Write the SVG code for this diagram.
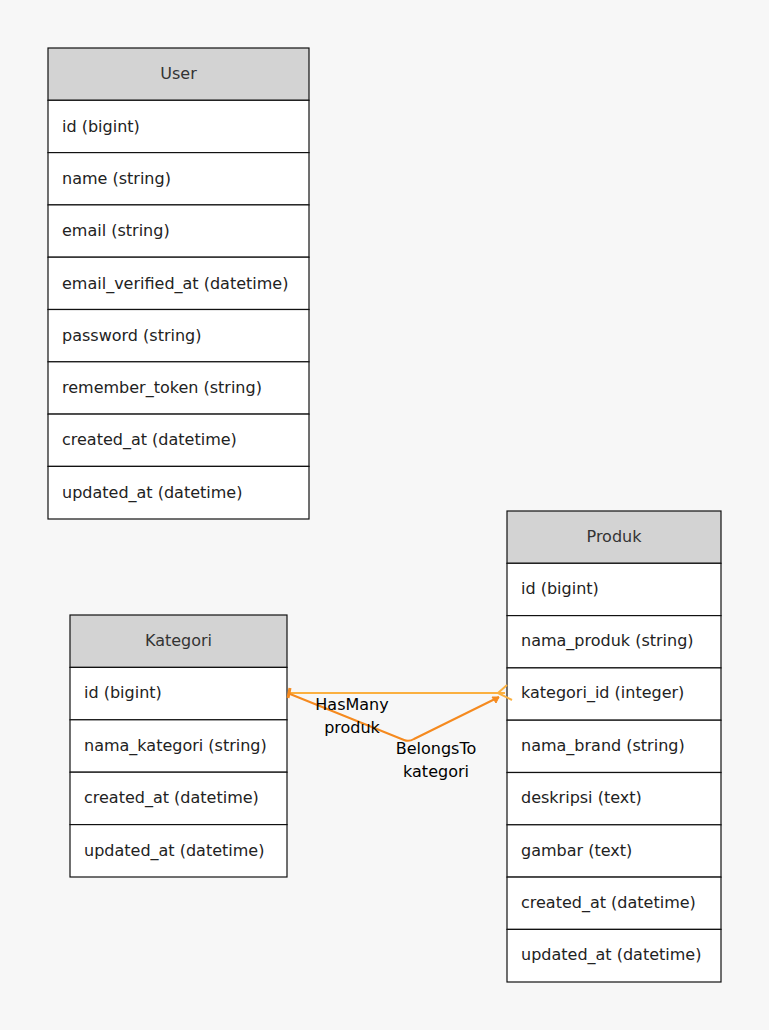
<svg xmlns="http://www.w3.org/2000/svg" width="769" height="1030" viewBox="0 0 769 1030">
<defs>
<style>
.hdr{fill:#d3d3d3;stroke:#111;stroke-width:1.2}
.row{fill:#fff;stroke:#111;stroke-width:1.2}
.t{font-family:"DejaVu Sans",sans-serif;font-size:16px;fill:#222}
.h{font-family:"DejaVu Sans",sans-serif;font-size:16px;fill:#333;text-anchor:middle}
.lbl{font-family:"DejaVu Sans",sans-serif;font-size:16px;fill:#000;text-anchor:middle}
</style>
</defs>
<rect width="769" height="1030" fill="#f7f7f7"/>
<g id="user">
<rect class="hdr" x="48" y="48" width="261" height="52.3"/>
<rect class="row" x="48" y="100.3" width="261" height="52.3"/>
<rect class="row" x="48" y="152.6" width="261" height="52.3"/>
<rect class="row" x="48" y="204.9" width="261" height="52.3"/>
<rect class="row" x="48" y="257.2" width="261" height="52.3"/>
<rect class="row" x="48" y="309.5" width="261" height="52.3"/>
<rect class="row" x="48" y="361.8" width="261" height="52.3"/>
<rect class="row" x="48" y="414.1" width="261" height="52.3"/>
<rect class="row" x="48" y="466.4" width="261" height="52.6"/>
<text class="h" x="178.5" y="79">User</text>
<text class="t" x="62" y="132">id (bigint)</text>
<text class="t" x="62" y="184">name (string)</text>
<text class="t" x="62" y="236">email (string)</text>
<text class="t" x="62" y="289">email_verified_at (datetime)</text>
<text class="t" x="62" y="341">password (string)</text>
<text class="t" x="62" y="393">remember_token (string)</text>
<text class="t" x="62" y="445">created_at (datetime)</text>
<text class="t" x="62" y="498">updated_at (datetime)</text>
</g>
<g id="kategori">
<rect class="hdr" x="70" y="615" width="217" height="52.4"/>
<rect class="row" x="70" y="667.4" width="217" height="52.4"/>
<rect class="row" x="70" y="719.8" width="217" height="52.4"/>
<rect class="row" x="70" y="772.2" width="217" height="52.4"/>
<rect class="row" x="70" y="824.6" width="217" height="52.4"/>
<text class="h" x="178.5" y="646">Kategori</text>
<text class="t" x="84" y="698">id (bigint)</text>
<text class="t" x="84" y="751">nama_kategori (string)</text>
<text class="t" x="84" y="803">created_at (datetime)</text>
<text class="t" x="84" y="856">updated_at (datetime)</text>
</g>
<g id="produk">
<rect class="hdr" x="507" y="511" width="214" height="52.3"/>
<rect class="row" x="507" y="563.3" width="214" height="52.3"/>
<rect class="row" x="507" y="615.6" width="214" height="52.3"/>
<rect class="row" x="507" y="667.9" width="214" height="52.3"/>
<rect class="row" x="507" y="720.2" width="214" height="52.3"/>
<rect class="row" x="507" y="772.5" width="214" height="52.3"/>
<rect class="row" x="507" y="824.8" width="214" height="52.3"/>
<rect class="row" x="507" y="877.1" width="214" height="52.3"/>
<rect class="row" x="507" y="929.4" width="214" height="52.6"/>
<text class="h" x="614" y="542">Produk</text>
<text class="t" x="521" y="594">id (bigint)</text>
<text class="t" x="521" y="646">nama_produk (string)</text>
<text class="t" x="521" y="698">kategori_id (integer)</text>
<text class="t" x="521" y="751">nama_brand (string)</text>
<text class="t" x="521" y="803">deskripsi (text)</text>
<text class="t" x="521" y="856">gambar (text)</text>
<text class="t" x="521" y="908">created_at (datetime)</text>
<text class="t" x="521" y="960">updated_at (datetime)</text>
</g>
<g id="connectors" fill="none">
<path d="M289 693 L505 693" stroke="#fbb040" stroke-width="2"/>
<path d="M290 688 L288 698" stroke="#f58a1f" stroke-width="3"/>
<path d="M498 693 L507 685 M498 693 L512 700" stroke="#fbb040" stroke-width="2"/>
<path d="M290 694 L404 740 Q409 742 414 739 L499 697" stroke="#f58a1f" stroke-width="2"/>
<path d="M499 697 L492 697 L496 703 Z" fill="#f58a1f" stroke="#f58a1f" stroke-width="1"/>
<text class="lbl" x="352" y="710">HasMany</text>
<text class="lbl" x="352" y="733">produk</text>
<text class="lbl" x="436" y="754">BelongsTo</text>
<text class="lbl" x="436" y="777">kategori</text>
</g>
</svg>
